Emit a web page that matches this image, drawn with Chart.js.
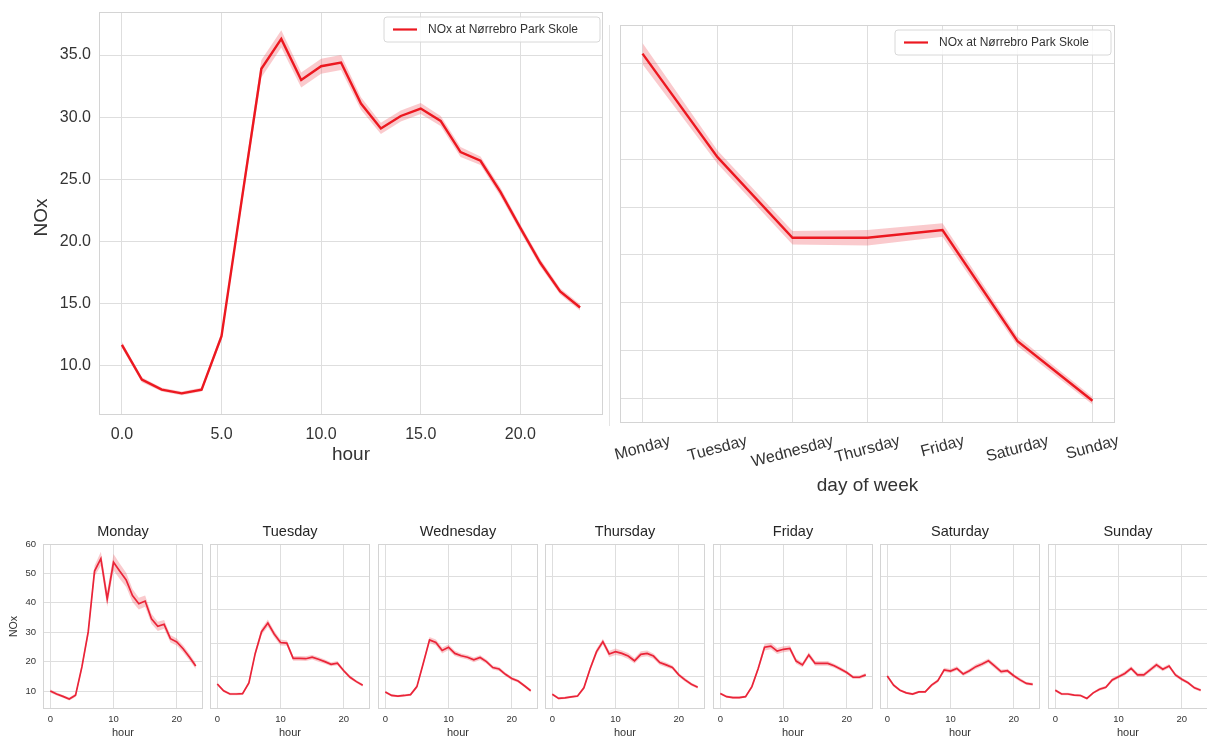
<!DOCTYPE html>
<html>
<head>
<meta charset="utf-8">
<title>NOx at Nørrebro Park Skole</title>
<script src="https://cdn.jsdelivr.net/npm/chart.js@4.4.1/dist/chart.umd.min.js"></script>
<style>
  html, body { margin: 0; padding: 0; background: #fff; }
  body { width: 1207px; height: 740px; position: relative; overflow: hidden; }
  canvas { position: absolute; }
</style>
</head>
<body>
<canvas id="hourly" width="610" height="480" style="left:0px;top:0px"></canvas>
<canvas id="daily" width="607" height="500" style="left:600px;top:0px"></canvas>
<script>
// ---- data ----
const hours = [0, 1, 2, 3, 4, 5, 6, 7, 8, 9, 10, 11, 12, 13, 14, 15, 16, 17, 18, 19, 20, 21, 22, 23];

// mean NOx per hour of day, with confidence half-widths
const hourlyNOx = [11.7, 8.9, 8.1, 7.8, 8.1, 12.4, 23.2, 33.9, 36.3, 33.0, 34.1, 34.4,
                   31.1, 29.1, 30.1, 30.7, 29.7, 27.2, 26.5, 24.0, 21.1, 18.3, 16.0, 14.7];
const hourlyCI  = [0.25, 0.2, 0.15, 0.15, 0.15, 0.3, 0.5, 0.7, 0.7, 0.6, 0.6, 0.6,
                   0.5, 0.45, 0.45, 0.45, 0.4, 0.4, 0.35, 0.35, 0.3, 0.3, 0.25, 0.25];

// mean NOx per day of week
const days = ['Monday', 'Tuesday', 'Wednesday', 'Thursday', 'Friday', 'Saturday', 'Sunday'];
const dailyNOx = [30.5, 25.1, 20.9, 20.9, 21.3, 15.5, 12.4];
const dailyCI  = [0.55, 0.35, 0.35, 0.4, 0.35, 0.25, 0.2];

// hourly profile for each weekday
const mondayNOx    = [10.0, 9.0, 8.2, 7.3, 8.6, 18.2, 30.1, 50.8, 55.0, 41.3, 53.8, 50.7,
                      47.8, 42.5, 39.7, 40.6, 34.6, 32.0, 32.7, 27.8, 26.7, 24.4, 21.6, 18.5];
const tuesdayNOx   = [12.4, 10.1, 9.0, 9.0, 9.1, 12.8, 22.8, 30.2, 33.1, 29.4, 26.5, 26.3,
                      21.1, 21.1, 21.0, 21.5, 20.8, 20.0, 19.1, 19.5, 16.9, 14.7, 13.2, 12.0];
const wednesdayNOx = [9.7, 8.5, 8.3, 8.5, 8.8, 11.5, 19.4, 27.4, 26.5, 23.8, 24.9, 22.8,
                      22.0, 21.5, 20.6, 21.4, 20.0, 18.0, 17.5, 15.7, 14.3, 13.4, 11.8, 10.1];
const thursdayNOx  = [8.9, 7.5, 7.7, 8.0, 8.3, 11.1, 17.7, 23.4, 26.8, 22.6, 23.4, 22.8,
                      21.9, 20.3, 22.5, 22.8, 21.9, 19.7, 18.9, 18.0, 15.5, 13.8, 12.3, 11.3];
const fridayNOx    = [9.2, 8.1, 7.8, 7.8, 8.1, 11.5, 17.7, 24.9, 25.3, 23.6, 24.2, 24.5,
                      20.2, 18.9, 22.3, 19.4, 19.4, 19.4, 18.6, 17.5, 16.3, 14.7, 14.7, 15.5];
const saturdayNOx  = [15.1, 12.0, 10.3, 9.4, 9.0, 9.7, 9.7, 12.0, 13.5, 17.2, 16.8, 17.7,
                      15.8, 16.9, 18.3, 19.2, 20.3, 18.5, 16.6, 16.9, 15.2, 13.8, 12.6, 12.3];
const sundayNOx    = [10.3, 9.0, 9.0, 8.6, 8.5, 7.5, 9.4, 10.6, 11.3, 13.8, 14.9, 16.0,
                      17.7, 15.5, 15.5, 17.2, 18.9, 17.4, 18.5, 15.5, 14.0, 12.8, 11.1, 10.3];

const mondayCI    = [0.6, 0.5, 0.5, 0.5, 0.6, 1.0, 1.4, 1.8, 2.4, 2.6, 2.8, 2.6,
                     2.4, 2.2, 2.0, 1.9, 1.7, 1.6, 1.5, 1.3, 1.2, 1.2, 1.1, 1.0];
const tuesdayCI   = [0.5, 0.4, 0.4, 0.4, 0.4, 0.6, 0.9, 1.1, 1.2, 1.1, 1.0, 0.9,
                     0.8, 0.8, 0.8, 0.8, 0.8, 0.7, 0.7, 0.7, 0.6, 0.6, 0.5, 0.5];
const wednesdayCI = [0.4, 0.4, 0.4, 0.4, 0.4, 0.6, 0.8, 1.0, 1.0, 1.0, 0.9, 0.9,
                     0.8, 0.8, 0.8, 0.8, 0.7, 0.7, 0.7, 0.6, 0.6, 0.5, 0.5, 0.5];
const thursdayCI  = [0.4, 0.4, 0.4, 0.4, 0.4, 0.6, 0.8, 1.0, 1.0, 1.1, 1.1, 1.0,
                     1.0, 0.9, 1.0, 1.0, 0.9, 0.8, 0.8, 0.7, 0.6, 0.6, 0.5, 0.5];
const fridayCI    = [0.4, 0.4, 0.4, 0.4, 0.4, 0.6, 0.8, 1.1, 1.1, 1.0, 1.0, 1.0,
                     0.9, 0.8, 0.9, 0.8, 0.8, 0.8, 0.7, 0.7, 0.6, 0.6, 0.6, 0.6];
const saturdayCI  = [0.6, 0.5, 0.4, 0.4, 0.4, 0.4, 0.4, 0.5, 0.6, 0.7, 0.7, 0.7,
                     0.7, 0.7, 0.8, 0.8, 0.8, 0.8, 0.7, 0.7, 0.6, 0.6, 0.5, 0.5];
const sundayCI    = [0.5, 0.4, 0.4, 0.4, 0.4, 0.4, 0.4, 0.5, 0.5, 0.6, 0.6, 0.7,
                     0.7, 0.7, 0.7, 0.7, 0.8, 0.7, 0.7, 0.6, 0.6, 0.5, 0.5, 0.5];

const panelSeries = [mondayNOx, tuesdayNOx, wednesdayNOx, thursdayNOx, fridayNOx, saturdayNOx, sundayNOx];
const panelCI = [mondayCI, tuesdayCI, wednesdayCI, thursdayCI, fridayCI, saturdayCI, sundayCI];

const hourTicks = [0, 5, 10, 15, 20];
const panelHourTicks = [0, 10, 20];
const mondayYTicks = [10, 20, 30, 40, 50, 60];

const legendText = 'NOx at Nørrebro Park Skole';

// ---- style ----
const FONT = "'Liberation Sans', Arial, Helvetica, sans-serif";
const RED = 'rgb(236, 24, 32)';
const RED_PANEL = 'rgb(234, 36, 56)';
const BAND = 'rgba(240, 90, 100, 0.32)';
const GRID = '#dedede';
const TEXT = '#333333';

Chart.defaults.font.family = FONT;
Chart.defaults.color = TEXT;

// mean line + lower/upper bound of its confidence band
function lineSets(xs, ys, ci, color, width) {
  const pts = arr => arr.map((v, i) => ({ x: xs[i], y: v }));
  const hidden = 'rgba(0,0,0,0)';
  return [
    { data: pts(ys), borderColor: color, borderWidth: width, pointRadius: 0, fill: false, tension: 0, order: 0 },
    { data: pts(ys.map((v, i) => v - ci[i])), borderColor: hidden, borderWidth: 1, pointRadius: 0, fill: false, order: 1 },
    { data: pts(ys.map((v, i) => v + ci[i])), borderColor: hidden, borderWidth: 1, pointRadius: 0, fill: 1, backgroundColor: BAND, order: 2 }
  ];
}

function fixedTicks(list) {
  return axis => { axis.ticks = list.map(v => ({ value: v })); };
}

// pin an axis box to a fixed size and drop the label overhang padding
function fixedSize(prop, size) {
  return s => {
    s[prop] = size;
    s.paddingTop = 0; s.paddingBottom = 0; s.paddingLeft = 0; s.paddingRight = 0;
  };
}

function drawFrame(ctx, ca) {
  ctx.save();
  ctx.strokeStyle = '#d4d4d4';
  ctx.lineWidth = 1;
  ctx.strokeRect(Math.round(ca.left) + 0.5, Math.round(ca.top) + 0.5,
                 Math.round(ca.right - ca.left) - 1, Math.round(ca.bottom - ca.top) - 1);
  ctx.restore();
}

function drawText(ctx, text, x, y, size, opts = {}) {
  ctx.save();
  ctx.font = `${size}px ${FONT}`;
  ctx.fillStyle = opts.color || TEXT;
  ctx.textAlign = opts.align || 'center';
  ctx.textBaseline = 'middle';
  ctx.translate(x, y);
  if (opts.rotate) ctx.rotate(opts.rotate * Math.PI / 180);
  ctx.fillText(text, 0, 0);
  ctx.restore();
}

function drawLegend(ctx, right, top) {
  const w = 216, h = 25, x = right - w, y = top, r = 3;
  ctx.save();
  ctx.beginPath();
  ctx.moveTo(x + r, y);
  ctx.arcTo(x + w, y, x + w, y + h, r);
  ctx.arcTo(x + w, y + h, x, y + h, r);
  ctx.arcTo(x, y + h, x, y, r);
  ctx.arcTo(x, y, x + w, y, r);
  ctx.closePath();
  ctx.fillStyle = 'rgba(255,255,255,0.85)';
  ctx.fill();
  ctx.strokeStyle = '#d8d8d8';
  ctx.lineWidth = 1;
  ctx.stroke();
  ctx.beginPath();
  ctx.moveTo(x + 9, y + h / 2);
  ctx.lineTo(x + 33, y + h / 2);
  ctx.strokeStyle = RED;
  ctx.lineWidth = 2.2;
  ctx.stroke();
  ctx.restore();
  drawText(ctx, legendText, x + 44, y + h / 2 + 0.5, 12, { align: 'left' });
}

function decor(draw) {
  return {
    id: 'decor',
    beforeDatasetsDraw(chart) { drawFrame(chart.ctx, chart.chartArea); },
    afterDraw(chart) { draw(chart.ctx, chart.chartArea, chart); }
  };
}

const baseOptions = () => ({
  responsive: false,
  animation: false,
  events: [],
  plugins: { legend: { display: false }, tooltip: { enabled: false } }
});

// ---- NOx by hour of day ----
new Chart(document.getElementById('hourly'), {
  type: 'line',
  data: { datasets: lineSets(hours, hourlyNOx, hourlyCI, RED, 2.4) },
  options: Object.assign(baseOptions(), {
    layout: { padding: { top: 12, right: 7, left: 0, bottom: 0 } },
    scales: {
      x: {
        type: 'linear', min: -1.15, max: 24.15,
        afterBuildTicks: fixedTicks(hourTicks),
        ticks: { padding: 10, font: { size: 16 }, color: TEXT, maxRotation: 0, autoSkip: false,
                 callback: v => Number(v).toFixed(1) },
        grid: { color: GRID, drawTicks: false }, border: { display: false },
        afterFit: fixedSize('height', 65)
      },
      y: {
        type: 'linear', min: 6.06, max: 38.46,
        ticks: { stepSize: 5, includeBounds: false, padding: 8, font: { size: 16 }, color: TEXT,
                 callback: v => Number(v).toFixed(1) },
        grid: { color: GRID, drawTicks: false }, border: { display: false },
        afterFit: fixedSize('width', 99)
      }
    }
  }),
  plugins: [decor((ctx, ca) => {
    drawText(ctx, 'hour', (ca.left + ca.right) / 2, ca.bottom + 40, 19);
    drawText(ctx, 'NOx', 42, (ca.top + ca.bottom) / 2 + 4, 19, { rotate: -90 });
    drawLegend(ctx, ca.right - 3, ca.top + 5);
  })]
});

// ---- NOx by day of week ----
new Chart(document.getElementById('daily'), {
  type: 'line',
  data: { datasets: lineSets(days.map((d, i) => i), dailyNOx, dailyCI, RED, 2.4) },
  options: Object.assign(baseOptions(), {
    layout: { padding: { top: 25, right: 92, left: 0, bottom: 0 } },
    scales: {
      x: {
        type: 'linear', min: -0.3, max: 6.3,
        afterBuildTicks: fixedTicks(days.map((d, i) => i)),
        ticks: { display: false },
        grid: { color: GRID, drawTicks: false }, border: { display: false },
        afterFit: fixedSize('height', 77)
      },
      y: {
        type: 'linear', min: 11.24, max: 31.99,
        ticks: { display: false, stepSize: 2.5, includeBounds: false },
        grid: { color: GRID, drawTicks: false }, border: { display: false },
        afterFit: fixedSize('width', 20)
      }
    }
  }),
  plugins: [decor((ctx, ca, chart) => {
    const xs = chart.scales.x;
    ctx.save();
    ctx.font = `16px ${FONT}`;
    const ang = 15 * Math.PI / 180;
    days.forEach((d, i) => {
      const w = ctx.measureText(d).width;
      const boxH = w * Math.sin(ang) + 16 * Math.cos(ang);
      drawText(ctx, d, xs.getPixelForValue(i), ca.bottom + 10 + boxH / 2, 16, { rotate: -15 });
    });
    ctx.restore();
    drawText(ctx, 'day of week', (ca.left + ca.right) / 2, ca.bottom + 63, 19);
    // thin edge line left of the frame
    ctx.save();
    ctx.strokeStyle = '#e4e4e4';
    ctx.lineWidth = 1;
    ctx.beginPath();
    ctx.moveTo(9.5, ca.top);
    ctx.lineTo(9.5, ca.bottom + 3);
    ctx.stroke();
    ctx.restore();
    drawLegend(ctx, ca.right - 4, ca.top + 5);
  })]
});

// ---- one small panel per weekday ----
const panelLefts = [43, 210, 378, 545, 713, 880, 1048];
const PANEL_W = 160, AXIS_W = 42;

days.forEach((day, i) => {
  const cv = document.createElement('canvas');
  cv.width = AXIS_W + PANEL_W + 6;
  cv.height = 225;
  cv.style.left = (panelLefts[i] - AXIS_W) + 'px';
  cv.style.top = '515px';
  document.body.appendChild(cv);
  const first = i === 0;
  const yMin = 3.9, yMax = 60;
  new Chart(cv, {
    type: 'line',
    data: { datasets: lineSets(hours, panelSeries[i], panelCI[i], RED_PANEL, 1.7) },
    options: Object.assign(baseOptions(), {
      layout: { padding: { top: 29, right: 6, left: 0, bottom: 0 } },
      scales: {
        x: {
          type: 'linear', min: -1.15, max: 24.15,
          afterBuildTicks: fixedTicks(panelHourTicks),
          ticks: { padding: 5, font: { size: 9.5 }, color: TEXT, maxRotation: 0, autoSkip: false,
                   callback: v => String(v) },
          grid: { color: GRID, drawTicks: false }, border: { display: false },
          afterFit: fixedSize('height', 31)
        },
        y: {
          type: 'linear', min: yMin, max: yMax,
          afterBuildTicks: first ? fixedTicks(mondayYTicks)
                                 : fixedTicks([1, 2, 3, 4].map(k => yMin + k * (yMax - yMin) / 5)),
          ticks: { display: first, padding: 7, font: { size: 9.5 }, color: TEXT, callback: v => String(v) },
          grid: { color: GRID, drawTicks: false }, border: { display: false },
          afterFit: fixedSize('width', AXIS_W)
        }
      }
    }),
    plugins: [decor((ctx, ca) => {
      drawText(ctx, day, (ca.left + ca.right) / 2, 17, 14.5, { color: '#262626' });
      drawText(ctx, 'hour', (ca.left + ca.right) / 2, ca.bottom + 24, 11);
      if (first) drawText(ctx, 'NOx', 13, (ca.top + ca.bottom) / 2, 10.5, { rotate: -90 });
    })]
  });
});
</script>
</body>
</html>
